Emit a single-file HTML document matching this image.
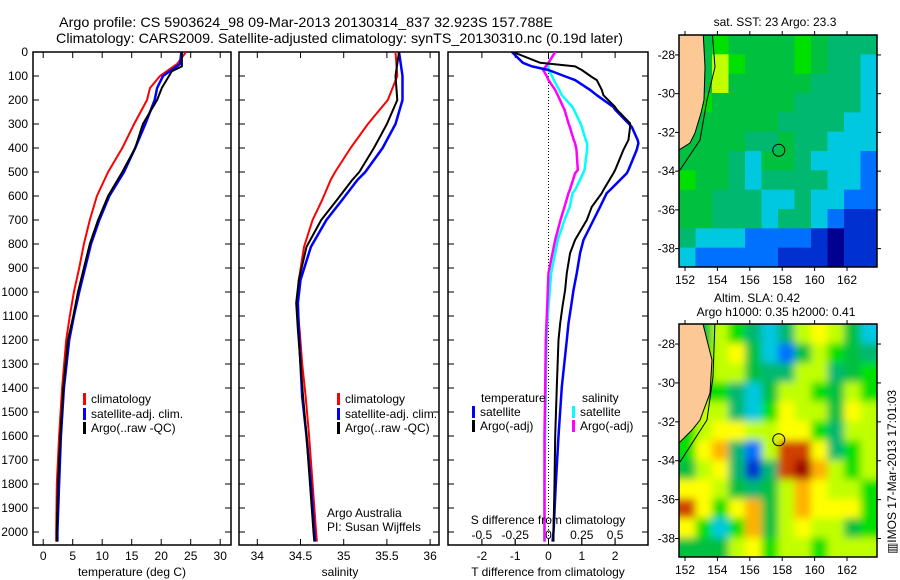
<!DOCTYPE html>
<html><head><meta charset="utf-8">
<style>
html,body{margin:0;padding:0;background:#fff;}
svg{display:block;font-family:"Liberation Sans",sans-serif;}
text{fill:#000;}
</style></head>
<body>
<svg id="chart" xmlns="http://www.w3.org/2000/svg" width="900" height="580" viewBox="0 0 900 580">
<defs>
<clipPath id="cp1"><rect x="33" y="52" width="198" height="493"/></clipPath>
<clipPath id="cp2"><rect x="239" y="52" width="200" height="493"/></clipPath>
<clipPath id="cp3"><rect x="448" y="52" width="200" height="493"/></clipPath>
<clipPath id="cpm1"><rect x="679" y="35" width="198" height="232"/></clipPath>
<clipPath id="cpm2"><rect x="679" y="324" width="198" height="233"/></clipPath>
<filter id="blur" x="-5%" y="-5%" width="110%" height="110%"><feGaussianBlur stdDeviation="4"/></filter>
</defs>
<text x="59" y="27" font-size="14" textLength="494" lengthAdjust="spacingAndGlyphs">Argo profile: CS 5903624_98 09-Mar-2013 20130314_837 32.923S 157.788E</text>
<text x="56" y="43" font-size="14" textLength="567" lengthAdjust="spacingAndGlyphs">Climatology: CARS2009. Satellite-adjusted climatology: synTS_20130310.nc (0.19d later)</text>
<g id="g1"></g>
<g id="g2"></g>
<g id="g3"></g>
<g id="m1"></g>
<g id="m2"></g>
<text x="775" y="26" font-size="12" text-anchor="middle">sat. SST: 23 Argo: 23.3</text>
<text x="757" y="302" font-size="12" text-anchor="middle">Altim. SLA: 0.42</text>
<text x="776" y="316" font-size="12" text-anchor="middle">Argo h1000: 0.35 h2000: 0.41</text>
<text transform="translate(896,472) rotate(-90)" font-size="12" text-anchor="middle">▥IMOS 17-Mar-2013 17:01:03</text>
<text x="327" y="517" font-size="12">Argo Australia</text>
<text x="327" y="531" font-size="12">PI: Susan Wijffels</text>
</svg>
<script>
// ---- profile data (depth in dbar) ----
const depthTick=[0,100,200,300,400,500,600,700,800,900,1000,1100,1200,1300,1400,1500,1600,1700,1800,1900,2000];
const tDepthArgo=[0,60,80,150,200,300,400,500,600,700,800,900,1000,1100,1200,1400,1600,1800,2000,2040];
const tArgo=[23.5,23.5,21.8,20.1,19.3,16.9,15.6,13.4,11.0,9.3,7.9,6.9,5.9,5.1,4.2,3.4,2.9,2.5,2.3,2.3];
const tDepthClim=[0,50,100,150,200,300,400,500,600,700,800,900,1000,1100,1200,1400,1600,1800,2000,2040];
const tSat=[23.4,23.2,20.3,19.3,18.9,17.3,15.6,13.7,11.2,9.5,8.1,7.1,6.1,5.2,4.4,3.5,3.0,2.7,2.4,2.4];
const tClim=[24.2,22.7,19.8,18.1,17.6,15.4,13.4,11.0,9.1,7.9,6.9,6.1,5.2,4.5,3.9,3.2,2.7,2.3,2.2,2.2];
const sDepth=[0,100,200,300,400,500,533,617,700,812,950,1046,1158,1300,1437,1600,1800,2000,2040];
const sArgo=[35.64,35.6,35.62,35.5,35.35,35.18,35.1,34.92,34.74,34.57,34.48,34.45,34.47,34.5,34.53,34.57,34.61,34.65,34.66];
const sSat=[35.64,35.68,35.68,35.6,35.45,35.25,35.16,34.98,34.8,34.62,34.5,34.47,34.48,34.5,34.52,34.57,34.62,34.66,34.67];
const sClim=[35.6,35.62,35.51,35.28,35.08,34.9,34.85,34.75,34.64,34.54,34.48,34.46,34.49,34.52,34.56,34.6,34.64,34.68,34.69];
const dDepth=[0,45,60,75,104,117,158,180,229,240,297,312,367,380,408,492,505,575,588,645,700,783,838,921,992,1060,1130,1200,1396,1600,1800,2000,2040];
const dTArgo=[-1.07,-0.25,0.8,1.0,1.3,1.45,1.6,1.65,2.0,2.05,2.45,2.45,2.4,2.35,2.25,2.0,1.95,1.65,1.6,1.3,1.15,0.8,0.65,0.55,0.5,0.42,0.35,0.3,0.25,0.2,0.18,0.15,0.15];
const dTSat=[-1.1,-0.77,-0.5,0,0.55,0.8,1.25,1.45,1.95,2.0,2.4,2.5,2.68,2.7,2.65,2.4,2.35,1.85,1.75,1.55,1.35,1.05,0.95,0.85,0.75,0.68,0.6,0.55,0.4,0.3,0.22,0.15,0.12];
const dSSat=[0.05,0.0,0.0,0.0,0.03,0.04,0.08,0.1,0.18,0.19,0.24,0.25,0.28,0.29,0.29,0.27,0.26,0.2,0.18,0.16,0.12,0.07,0.05,0.02,0.01,0.0,-0.01,-0.015,-0.02,-0.025,-0.03,-0.03,-0.03];
const dSArgo=[0.05,0.0,-0.02,-0.04,-0.01,0.0,0.05,0.07,0.11,0.12,0.15,0.16,0.19,0.2,0.21,0.22,0.2,0.16,0.15,0.12,0.09,0.05,0.03,0.0,-0.005,-0.01,-0.015,-0.02,-0.025,-0.03,-0.03,-0.03,-0.03];
const tTicks=[0,5,10,15,20,25,30];
const sTicks=[34,34.5,35,35.5,36];
const dtTicks=[-2,-1,0,1,2];
const dsTicks=[-0.5,-0.25,0,0.25,0.5];
const dsTickLabels=["-0.5","-0.25","0","0.25","0.5"];
// ---- map data (12x12 cells, colour index) ----
const lonTicks=[152,154,156,158,160,162];
const latTicks=[-28,-30,-32,-34,-36,-38];
const sstGrid=[
[5,5,6,5,5,5,5,6,5,4,4,4],
[5,5,7,6,5,5,5,6,5,4,4,3],
[5,5,7,5,5,5,5,5,4,4,4,3],
[5,6,5,5,5,5,5,4,4,4,4,3],
[5,5,5,5,5,5,4,4,4,4,3,3],
[5,5,5,5,4,4,5,4,4,3,3,3],
[5,5,5,4,3,5,5,4,3,3,3,2],
[6,5,5,4,3,4,4,4,4,3,3,2],
[5,5,4,4,4,3,3,4,3,3,2,2],
[5,5,4,4,4,3,4,4,3,2,1,1],
[4,3,3,3,2,2,2,2,1,0,1,1],
[3,2,2,2,2,2,1,1,1,0,1,1]];
const slaGrid=[
[6,5,7,6,4,3,4,7,8,7,5,3],
[6,6,7,8,5,3,2,5,7,6,5,4],
[6,6,7,7,5,4,4,7,7,4,5,6],
[6,6,6,4,3,5,7,7,6,5,7,6],
[6,7,7,4,3,6,8,7,7,5,8,7],
[6,7,8,8,7,7,8,8,6,4,7,7],
[6,8,9,4,2,7,10,10,8,4,6,7],
[5,7,8,4,1,4,10,11,9,7,6,7],
[8,8,7,5,4,5,7,9,8,7,7,6],
[10,8,6,8,9,5,7,9,8,8,8,6],
[8,6,3,6,9,5,7,8,7,7,5,6],
[5,5,5,7,8,6,7,7,6,7,7,7]];
const argoLon=157.788, argoLat=-32.923;

const NS="http://www.w3.org/2000/svg";
function mk(tag,attrs,parent,txt){const e=document.createElementNS(NS,tag);for(const k in attrs)e.setAttribute(k,attrs[k]);if(txt!==undefined)e.textContent=txt;parent.appendChild(e);return e;}
const yD=d=>52+0.24*d;
const xT=t=>43.2+5.9*t;
const xS=s=>257.3+86.4*(s-34);
const xDT=t=>548.5+33.3*t;
const xDS=s=>548.5+133.2*s;

function panel(g,x0,x1,cp,ticksX,fx,labels,ly,showY){
  const y0=52,y1=545;
  const box=mk('rect',{x:x0,y:y0,width:x1-x0,height:y1-y0,fill:'none',stroke:'#000','stroke-width':1.5},g);
  
  depthTick.forEach(d=>{
    const l=mk('line',{x1:x0,x2:x0+6,y1:yD(d),y2:yD(d),stroke:'#000'},g);
    
    const r=mk('line',{x1:x1,x2:x1-6,y1:yD(d),y2:yD(d),stroke:'#000'},g);
    
    if(showY){const t=mk('text',{x:28,y:yD(d)+4,'font-size':12,'text-anchor':'end'},g,String(d));
      }
  });
  ticksX.forEach((v,i)=>{
    const b=mk('line',{x1:fx(v),x2:fx(v),y1:y1,y2:y1-6,stroke:'#000'},g);
    
    const t=mk('line',{x1:fx(v),x2:fx(v),y1:y0,y2:y0+6,stroke:'#000'},g);
    
    if(labels){const tx=mk('text',{x:fx(v),y:ly,'font-size':12,'text-anchor':'middle'},g,labels[i]);
      }
  });
}
function line(g,cp,depths,vals,fx,color,w,name){
  const pts=vals.map((v,i)=>fx(v).toFixed(1)+','+yD(depths[i]).toFixed(1)).join(' ');
  const p=mk('polyline',{points:pts,fill:'none',stroke:color,'stroke-width':w,'clip-path':'url(#'+cp+')','stroke-linejoin':'round'},g);
  
}
function legend(g,x,y,color,label){
  const b=mk('rect',{x:x,y:y-10,width:3,height:12,fill:color},g);
  
  const t=mk('text',{x:x+8,y:y,'font-size':12},g,label);
  
}
const g1=document.getElementById('g1');
panel(g1,33,231,'cp1',tTicks,xT,tTicks.map(String),560,true);
line(g1,'cp1',tDepthClim,tClim,xT,'#f00',2,'temperature-climatology-line');
line(g1,'cp1',tDepthClim,tSat,xT,'#00f',2.5,'temperature-satellite-line');
line(g1,'cp1',tDepthArgo,tArgo,xT,'#000',2,'temperature-argo-line');
legend(g1,83,403,'#f00','climatology');legend(g1,83,418,'#00f','satellite-adj. clim.');legend(g1,83,432,'#000','Argo(..raw -QC)');
let t=mk('text',{x:132,y:576,'font-size':12,'text-anchor':'middle'},g1,'temperature (deg C)');

const g2=document.getElementById('g2');
panel(g2,239,439,'cp2',sTicks,xS,sTicks.map(String),560,false);
line(g2,'cp2',sDepth,sClim,xS,'#f00',2,'salinity-climatology-line');
line(g2,'cp2',sDepth,sSat,xS,'#00f',2.5,'salinity-satellite-line');
line(g2,'cp2',sDepth,sArgo,xS,'#000',2,'salinity-argo-line');
legend(g2,337,403,'#f00','climatology');legend(g2,337,418,'#00f','satellite-adj. clim.');legend(g2,337,432,'#000','Argo(..raw -QC)');
t=mk('text',{x:340,y:576,'font-size':12,'text-anchor':'middle'},g2,'salinity');

const g3=document.getElementById('g3');
panel(g3,448,648,'cp3',dtTicks,xDT,dtTicks.map(String),560,false);
dsTicks.forEach((v,i)=>{
  const l=mk('line',{x1:xDS(v),x2:xDS(v),y1:539,y2:545,stroke:'#000'},g3);
  
  const tx=mk('text',{x:xDS(v),y:539,'font-size':12,'text-anchor':'middle'},g3,dsTickLabels[i]);
  
});
const zl=mk('line',{x1:xDT(0),x2:xDT(0),y1:52,y2:545,stroke:'#000','stroke-dasharray':'1,2'},g3);

line(g3,'cp3',dDepth,dSSat,xDS,'#0ff',2.5,'s-diff-satellite-line');
line(g3,'cp3',dDepth,dSArgo,xDS,'#f0f',2.5,'s-diff-argo-line');
line(g3,'cp3',dDepth,dTSat,xDT,'#00f',2.5,'t-diff-satellite-line');
line(g3,'cp3',dDepth,dTArgo,xDT,'#000',2,'t-diff-argo-line');
t=mk('text',{x:481,y:402,'font-size':12},g3,'temperature');
t=mk('text',{x:582,y:402,'font-size':12},g3,'salinity');
legend(g3,472,416,'#00f','satellite');legend(g3,472,430,'#000','Argo(-adj)');
legend(g3,572,416,'#0ff','satellite');legend(g3,572,430,'#f0f','Argo(-adj)');
t=mk('text',{x:548,y:524,'font-size':12,'text-anchor':'middle'},g3,'S difference from climatology');
t=mk('text',{x:548,y:576,'font-size':12,'text-anchor':'middle'},g3,'T difference from climatology');

const cmap=['#000090','#0030d0','#0070ff','#00c8e0','#00b870','#00c040','#00e000','#c0ff00','#ffff00','#ffb000','#d04000','#a00000'];
function map(id,grid,top,bottom,cp,smooth,land,contour){
  const g=document.getElementById(id);
  const L=679,R=877,lon0=151.63,lon1=163.85,lat0=-26.97,lat1=-38.95;
  const xL=lon=>L+(lon-lon0)*(R-L)/(lon1-lon0);
  const yL=lat=>top+(lat-lat0)*(bottom-top)/(lat1-lat0);
  const cells=mk('g',{'clip-path':'url(#'+cp+')'},g);
  const inner=mk('g',smooth?{filter:'url(#blur)'}:{},cells);
  const nr=grid.length,nc=grid[0].length,cw=(R-L)/nc,ch=(bottom-top)/nr;
  const pad=smooth?1:0;
  grid.forEach((row,r)=>row.forEach((v,c)=>{
    const rc=mk('rect',{x:L+c*cw-(c==0?10*pad:0),y:top+r*ch-(r==0?10*pad:0),width:cw+0.6+(c==0||c==nc-1?10*pad:0),height:ch+0.6+(r==0||r==nr-1?10*pad:0),fill:cmap[v]},inner);
    
  }));
  const ld=mk('polygon',{points:land,fill:'#fcc896',stroke:'#000','stroke-width':1},cells);
  
  const ct=mk('polyline',{points:contour,fill:'none',stroke:'#000','stroke-width':1},cells);
  
  const ci=mk('circle',{cx:xL(argoLon),cy:yL(argoLat),r:6,fill:'none',stroke:'#000','stroke-width':1},g);
  
  const fr=mk('rect',{x:L,y:top,width:R-L,height:bottom-top,fill:'none',stroke:'#000','stroke-width':1.5},g);
  
  lonTicks.forEach(lo=>{
    mk('line',{x1:xL(lo),x2:xL(lo),y1:top,y2:top-4,stroke:'#000'},g);
    mk('line',{x1:xL(lo),x2:xL(lo),y1:bottom,y2:bottom+4,stroke:'#000'},g);
    const tx=mk('text',{x:xL(lo),y:bottom+17,'font-size':12,'text-anchor':'middle'},g,String(lo));
    
  });
  latTicks.forEach(la=>{
    mk('line',{x1:L,x2:L-4,y1:yL(la),y2:yL(la),stroke:'#000'},g);
    mk('line',{x1:R,x2:R+4,y1:yL(la),y2:yL(la),stroke:'#000'},g);
    const tx=mk('text',{x:675,y:yL(la)+4,'font-size':12,'text-anchor':'end'},g,String(la));
    
  });
}
map('m1',sstGrid,35,267,'cpm1',false,
 '670,30 703,30 705,67 704,100 701,113 695,133 690,143 679,150 670,150',
 '712,30 715,67 707,100 700,140 680,170');
map('m2',slaGrid,324,557,'cpm2',true,
 '670,320 702,320 712,360 710,393 700,420 692,430 680,442 670,442',
 '715,320 713,377 707,420 680,462');
</script>
</body></html>
